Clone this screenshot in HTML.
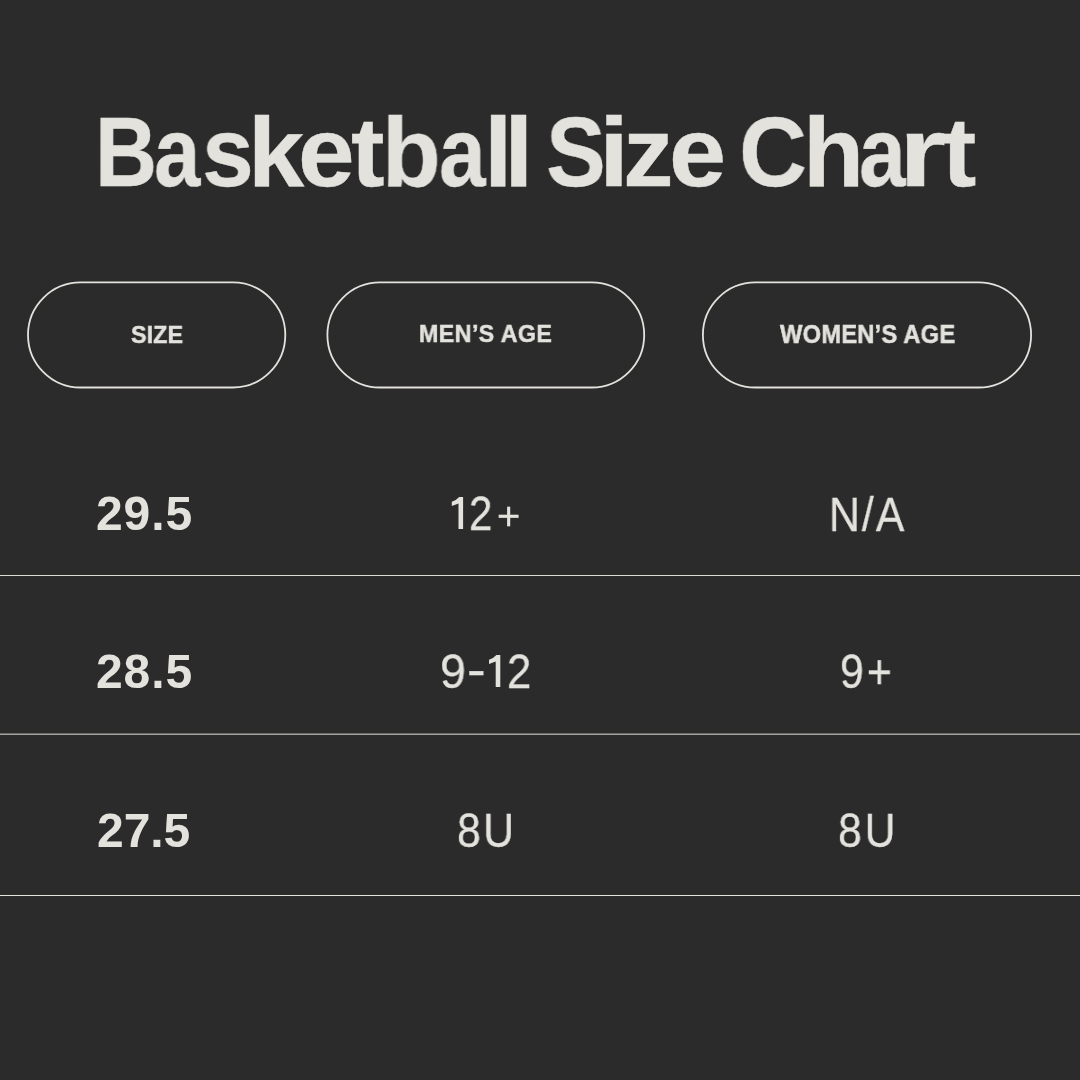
<!DOCTYPE html>
<html><head><meta charset="utf-8">
<title>Basketball Size Chart</title>
<style>
html,body{margin:0;padding:0;}
body{width:1080px;height:1080px;background:#2b2b2b;position:relative;overflow:hidden;font-family:"Liberation Sans",sans-serif;color:#e3e2dd;}
.t{position:absolute;white-space:nowrap;line-height:1;will-change:transform;}
.ov{position:absolute;left:0;top:0;}
</style></head><body>
<svg class="ov" width="1080" height="1080" viewBox="0 0 1080 1080">
<rect x="28.00" y="282.40" width="257.30" height="105.10" rx="52.55" fill="none" stroke="#e3e2dd" stroke-width="1.80"/>
<rect x="327.40" y="282.40" width="316.80" height="105.10" rx="52.55" fill="none" stroke="#e3e2dd" stroke-width="1.80"/>
<rect x="702.90" y="282.40" width="328.20" height="105.10" rx="52.55" fill="none" stroke="#e3e2dd" stroke-width="1.80"/>
<rect x="0" y="575.00" width="1080" height="1.00" fill="#dcdbd6"/>
<rect x="0" y="733.65" width="1080" height="1.00" fill="#e2e1dc"/>
<rect x="0" y="895.00" width="1080" height="1.00" fill="#e2e1dc"/>
<path d="M463.10 529.00 L458.50 529.00 L458.50 503.60 Q455.20 504.90 451.80 505.90 L451.80 501.80 Q456.20 500.30 459.20 496.90 L463.10 496.90 Z" fill="#e3e2dd"/>
<path d="M500.30 687.00 L495.70 687.00 L495.70 661.60 Q492.40 662.90 489.00 663.90 L489.00 659.80 Q493.40 658.30 496.40 654.90 L500.30 654.90 Z" fill="#e3e2dd"/>
</svg>
<div class="t" id="g0" style="left:95.02px;top:101.64px;font-size:99.00px;letter-spacing:0.000px;font-weight:bold;-webkit-text-stroke:0.40px #e3e2dd;transform:scaleX(0.8703);transform-origin:0 0;">B</div>
<div class="t" id="g1" style="left:153.88px;top:101.64px;font-size:99.00px;letter-spacing:0.000px;font-weight:bold;-webkit-text-stroke:0.40px #e3e2dd;transform:scaleX(0.8425);transform-origin:0 0;">a</div>
<div class="t" id="g2" style="left:202.40px;top:101.64px;font-size:99.00px;letter-spacing:0.000px;font-weight:bold;-webkit-text-stroke:0.40px #e3e2dd;transform:scaleX(0.9395);transform-origin:0 0;">s</div>
<div class="t" id="g3" style="left:247.53px;top:101.64px;font-size:99.00px;letter-spacing:0.000px;font-weight:bold;-webkit-text-stroke:0.40px #e3e2dd;transform:scaleX(1.0208);transform-origin:0 0;">k</div>
<div class="t" id="g4" style="left:298.02px;top:101.64px;font-size:99.00px;letter-spacing:0.000px;font-weight:bold;-webkit-text-stroke:0.40px #e3e2dd;transform:scaleX(1.0285);transform-origin:0 0;">e</div>
<div class="t" id="g5" style="left:351.31px;top:101.64px;font-size:99.00px;letter-spacing:0.000px;font-weight:bold;-webkit-text-stroke:0.40px #e3e2dd;transform:scaleX(1.0171);transform-origin:0 0;">t</div>
<div class="t" id="g6" style="left:382.12px;top:101.64px;font-size:99.00px;letter-spacing:0.000px;font-weight:bold;-webkit-text-stroke:0.40px #e3e2dd;transform:scaleX(0.9700);transform-origin:0 0;">b</div>
<div class="t" id="g7" style="left:439.02px;top:101.64px;font-size:99.00px;letter-spacing:0.000px;font-weight:bold;-webkit-text-stroke:0.40px #e3e2dd;transform:scaleX(0.8475);transform-origin:0 0;">a</div>
<div class="t" id="g8" style="left:483.82px;top:101.64px;font-size:99.00px;letter-spacing:0.000px;font-weight:bold;-webkit-text-stroke:0.40px #e3e2dd;transform:scaleX(1.0300);transform-origin:0 0;">l</div>
<div class="t" id="g9" style="left:504.31px;top:101.64px;font-size:99.00px;letter-spacing:0.000px;font-weight:bold;-webkit-text-stroke:0.40px #e3e2dd;transform:scaleX(1.0726);transform-origin:0 0;">l</div>
<div class="t" id="g10" style="left:545.54px;top:101.64px;font-size:99.00px;letter-spacing:0.000px;font-weight:bold;-webkit-text-stroke:0.40px #e3e2dd;transform:scaleX(0.9049);transform-origin:0 0;">S</div>
<div class="t" id="g11" style="left:598.65px;top:101.64px;font-size:99.00px;letter-spacing:0.000px;font-weight:bold;-webkit-text-stroke:0.40px #e3e2dd;transform:scaleX(1.0899);transform-origin:0 0;">i</div>
<div class="t" id="g12" style="left:622.50px;top:101.64px;font-size:99.00px;letter-spacing:0.000px;font-weight:bold;-webkit-text-stroke:0.40px #e3e2dd;transform:scaleX(1.0201);transform-origin:0 0;">z</div>
<div class="t" id="g13" style="left:669.17px;top:101.64px;font-size:99.00px;letter-spacing:0.000px;font-weight:bold;-webkit-text-stroke:0.40px #e3e2dd;transform:scaleX(1.0367);transform-origin:0 0;">e</div>
<div class="t" id="g14" style="left:738.59px;top:101.64px;font-size:99.00px;letter-spacing:0.000px;font-weight:bold;-webkit-text-stroke:0.40px #e3e2dd;transform:scaleX(0.9499);transform-origin:0 0;">C</div>
<div class="t" id="g15" style="left:802.94px;top:101.64px;font-size:99.00px;letter-spacing:0.000px;font-weight:bold;-webkit-text-stroke:0.40px #e3e2dd;transform:scaleX(1.0111);transform-origin:0 0;">h</div>
<div class="t" id="g16" style="left:859.48px;top:101.64px;font-size:99.00px;letter-spacing:0.000px;font-weight:bold;-webkit-text-stroke:0.40px #e3e2dd;transform:scaleX(0.8491);transform-origin:0 0;">a</div>
<div class="t" id="g17" style="left:899.45px;top:101.64px;font-size:99.00px;letter-spacing:0.000px;font-weight:bold;-webkit-text-stroke:0.40px #e3e2dd;transform:scaleX(1.2166);transform-origin:0 0;">r</div>
<div class="t" id="g18" style="left:942.02px;top:101.64px;font-size:99.00px;letter-spacing:0.000px;font-weight:bold;-webkit-text-stroke:0.40px #e3e2dd;transform:scaleX(1.0408);transform-origin:0 0;">t</div>
<div class="t" id="size" style="left:131.13px;top:323.40px;font-size:24.50px;letter-spacing:0.100px;font-weight:bold;-webkit-text-stroke:0.50px #e3e2dd;transform:scaleX(0.9500);transform-origin:0 0;">SIZE</div>
<div class="t" id="mens" style="left:419.43px;top:322.00px;font-size:24.50px;letter-spacing:0.400px;font-weight:bold;-webkit-text-stroke:0.50px #e3e2dd;transform:scaleX(0.9500);transform-origin:0 0;">MEN’S AGE</div>
<div class="t" id="womens" style="left:779.52px;top:322.00px;font-size:25.00px;letter-spacing:0.200px;font-weight:bold;-webkit-text-stroke:0.50px #e3e2dd;transform:scaleX(0.9500);transform-origin:0 0;">WOMEN’S AGE</div>
<div class="t" id="r1c1" style="left:96.21px;top:490.08px;font-size:48.00px;letter-spacing:0.921px;font-weight:bold;">29.5</div>
<div class="t" id="r1c2a" style="left:440.84px;top:489.20px;font-size:47.50px;letter-spacing:0.000px;font-weight:normal;color:transparent;transform:scaleX(0.9000);transform-origin:0 0;">1</div>
<div class="t" id="r1c2b" style="left:469.39px;top:490.00px;font-size:47.50px;letter-spacing:0.000px;font-weight:normal;-webkit-text-stroke:0.30px #e3e2dd;transform:scaleX(0.8856);transform-origin:0 0;">2</div>
<div class="t" id="r1c2c" style="left:496.61px;top:495.84px;font-size:39.28px;letter-spacing:0.000px;font-weight:normal;-webkit-text-stroke:0.30px #e3e2dd;transform:scaleX(1.0117);transform-origin:0 0;">+</div>
<div class="t" id="r1c3" style="left:828.64px;top:490.88px;font-size:47.50px;letter-spacing:2.306px;font-weight:normal;-webkit-text-stroke:0.30px #e3e2dd;transform:scaleX(0.9000);transform-origin:0 0;">N/A</div>
<div class="t" id="r2c1" style="left:96.21px;top:648.08px;font-size:48.00px;letter-spacing:0.921px;font-weight:bold;">28.5</div>
<div class="t" id="r2c2a" style="left:439.87px;top:648.32px;font-size:47.50px;letter-spacing:0.000px;font-weight:normal;-webkit-text-stroke:0.30px #e3e2dd;transform:scaleX(0.9790);transform-origin:0 0;">9</div>
<div class="t" id="r2c2b" style="left:467.24px;top:645.52px;font-size:47.50px;letter-spacing:0.000px;font-weight:normal;-webkit-text-stroke:0.30px #e3e2dd;transform:scaleX(1.1794);transform-origin:0 0;">-</div>
<div class="t" id="r2c2c" style="left:478.28px;top:648.00px;font-size:47.50px;letter-spacing:0.000px;font-weight:normal;color:transparent;transform:scaleX(0.9000);transform-origin:0 0;">1</div>
<div class="t" id="r2c2d" style="left:507.09px;top:648.32px;font-size:47.50px;letter-spacing:0.000px;font-weight:normal;-webkit-text-stroke:0.30px #e3e2dd;transform:scaleX(0.9193);transform-origin:0 0;">2</div>
<div class="t" id="r2c3" style="left:839.98px;top:648.00px;font-size:47.50px;letter-spacing:3.403px;font-weight:normal;-webkit-text-stroke:0.30px #e3e2dd;transform:scaleX(0.9000);transform-origin:0 0;">9+</div>
<div class="t" id="r3c1" style="left:97.17px;top:806.64px;font-size:48.00px;letter-spacing:-0.066px;font-weight:bold;">27.5</div>
<div class="t" id="r3c2" style="left:457.23px;top:807.12px;font-size:47.50px;letter-spacing:2.690px;font-weight:normal;-webkit-text-stroke:0.30px #e3e2dd;transform:scaleX(0.9000);transform-origin:0 0;">8U</div>
<div class="t" id="r3c3" style="left:837.99px;top:807.12px;font-size:47.50px;letter-spacing:3.144px;font-weight:normal;-webkit-text-stroke:0.30px #e3e2dd;transform:scaleX(0.9000);transform-origin:0 0;">8U</div>
</body></html>
